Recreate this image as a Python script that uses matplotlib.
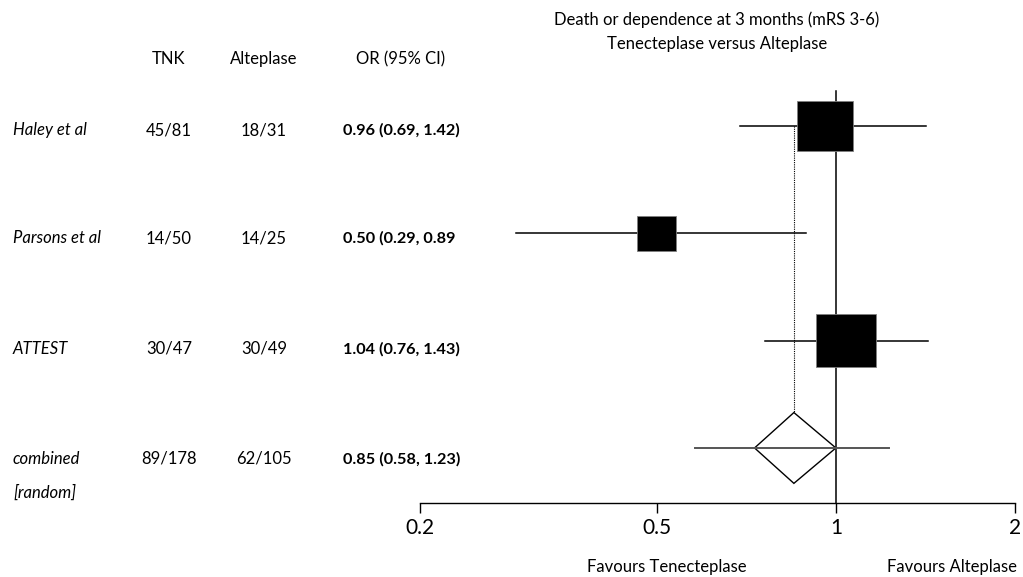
import numpy as np
import matplotlib.pyplot as plt
from matplotlib.patches import Polygon, Rectangle

plt.rcParams['font.family'] = ['Lato', 'DejaVu Sans']

# data
studies = ['Haley et al', 'Parsons et al', 'ATTEST']
tnk = ['45/81', '14/50', '30/47']
alteplase = ['18/31', '14/25', '30/49']
or_est = [0.96, 0.50, 1.04]
ci_lo = [0.69, 0.29, 0.76]
ci_hi = [1.42, 0.89, 1.43]
box_weight = [0.46, 0.32, 0.49]   # box height in row units

comb_label = ['combined', '[random]']
comb_tnk = '89/178'
comb_alt = '62/105'
comb_est = 0.85
comb_lo = 0.58
comb_hi = 1.23
comb_diamond = (0.73, 1.0)

or_text = ['0.96 (0.69, 1.42)', '0.50 (0.29, 0.89', '1.04 (0.76, 1.43)']
comb_or_text = '0.85 (0.58, 1.23)'

xticks = [0.2, 0.5, 1, 2]
xticklabels = ['0.2', '0.5', '1', '2']

W, H = 1023, 577
fig = plt.figure(figsize=(W / 100, H / 100), dpi=100)

# plot axes: x 420..1015 px, y from 72 px (top) to 503 px (axis line)
top_px, bot_px = 72.4, 503
ax = fig.add_axes([420 / W, 1 - bot_px / H, (1015 - 420) / W, (bot_px - top_px) / H])
ax.set_xscale('log')
ax.set_xlim(0.2, 2)
ax.set_ylim(3.513, -0.5)

rows = np.arange(len(studies))

# line of no effect and pooled estimate reference line
ax.plot([1, 1], [-0.33, 3.513], color='black', lw=1.1, zorder=1, clip_on=False)
ax.plot([comb_est, comb_est], [0, 3 - 0.335], color='black', lw=0.8,
        ls=(0, (1, 1)), zorder=1)

# study rows
px_per_row = (bot_px - top_px) / 4.013
for i, y in enumerate(rows):
    ax.plot([ci_lo[i], ci_hi[i]], [y, y], color='black', lw=1.1, zorder=2)
    h = box_weight[i]
    w_log = h * px_per_row * 1.14 / 595  # box width in decades
    c = np.log10(or_est[i])
    ax.add_patch(Rectangle((10 ** (c - w_log / 2), y - h / 2),
                           10 ** (c + w_log / 2) - 10 ** (c - w_log / 2), h,
                           facecolor='black', edgecolor='#808080', lw=0.6, zorder=3))

# combined estimate
yc = 3
ax.plot([comb_lo, comb_hi], [yc, yc], color='#555555', lw=1.4, zorder=2)
dh = 0.33
ax.add_patch(Polygon([(comb_diamond[0], yc), (comb_est, yc - dh),
                      (comb_diamond[1], yc), (comb_est, yc + dh)],
                     closed=True, facecolor='white', edgecolor='black', lw=1.0, zorder=3))
ax.plot([comb_diamond[0], comb_diamond[1]], [yc, yc], color='#555555', lw=1.4, zorder=4)

for s in ['top', 'right', 'left']:
    ax.spines[s].set_visible(False)
ax.spines['bottom'].set_linewidth(1.0)
ax.set_yticks([])
ax.set_xticks(xticks)
ax.set_xticklabels(xticklabels, fontsize=15)
ax.xaxis.set_minor_locator(plt.NullLocator())
ax.tick_params(axis='x', direction='out', length=7, width=1.0, pad=4)

# table text
def ft(x, y, s, size=12, **kw):
    fig.text(x / W, 1 - y / H, s, va='center', fontsize=size, **kw)

ft(169, 59, 'TNK', ha='center')
ft(264, 59, 'Alteplase', ha='center')
ft(401, 59, 'OR (95% CI)', ha='center')

text_y = [130, 238, 349]
for i in range(len(studies)):
    ft(13, text_y[i], studies[i], ha='left', style='italic')
    ft(169, text_y[i], tnk[i], ha='center')
    ft(264, text_y[i], alteplase[i], ha='center')
    ft(343, text_y[i], or_text[i], size=11.7, ha='left', weight='bold')

ft(13, 459, comb_label[0], ha='left', style='italic')
ft(13, 493, comb_label[1], ha='left', style='italic')
ft(169, 459, comb_tnk, ha='center')
ft(264, 459, comb_alt, ha='center')
ft(343, 459, comb_or_text, size=11.7, ha='left', weight='bold')

ft(717, 20, 'Death or dependence at 3 months (mRS 3-6)', ha='center')
ft(717, 44, 'Tenecteplase versus Alteplase', ha='center')
ft(667, 567, 'Favours Tenecteplase', ha='center')
ft(1017, 567, 'Favours Alteplase', ha='right')

fig.savefig('out.png', dpi=100)
